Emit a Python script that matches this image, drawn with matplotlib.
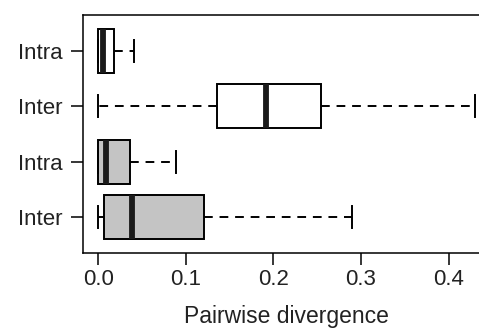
import matplotlib
matplotlib.use("Agg")
import matplotlib.pyplot as plt

plt.rcParams['font.family'] = ['Liberation Sans', 'DejaVu Sans']

# summary values, bottom row first
labels = ['Inter', 'Intra', 'Inter', 'Intra']
whislo = [0.0, 0.0, 0.0, 0.0]
q1 = [0.007, 0.0, 0.136, 0.0]
med = [0.039, 0.009, 0.192, 0.006]
q3 = [0.121, 0.036, 0.254, 0.018]
whishi = [0.29, 0.089, 0.43, 0.041]
fills = ['#c4c4c4', '#c4c4c4', 'white', 'white']

xticks = [0.0, 0.1, 0.2, 0.3, 0.4]

stats = []
for i in range(len(labels)):
    stats.append({'whislo': whislo[i], 'q1': q1[i], 'med': med[i],
                  'q3': q3[i], 'whishi': whishi[i], 'fliers': [],
                  'label': labels[i]})

fig = plt.figure(figsize=(4.79, 3.28), dpi=100)
ax = fig.add_axes([83/479, 75/328, 407/479, 238/328])

bp = ax.bxp(stats, positions=[1, 2, 3, 4], vert=False, widths=0.8,
            patch_artist=True, showfliers=False,
            boxprops=dict(edgecolor='black', linewidth=1.4),
            medianprops=dict(color='#1a1a1a', linewidth=4.2, solid_capstyle='butt'),
            whiskerprops=dict(color='black', linewidth=1.4, linestyle=(0, (4.5, 3.5))),
            capprops=dict(color='black', linewidth=1.4))
for patch, c in zip(bp['boxes'], fills):
    patch.set_facecolor(c)

ax.set_xlim(-0.0172, 0.4472)
ax.set_ylim(0.34, 4.66)
ax.set_xticks(xticks)
ax.set_xticklabels(['%.1f' % t for t in xticks])
ax.set_yticks([1, 2, 3, 4])
ax.set_yticklabels(labels)

for s in ['left', 'top', 'bottom']:
    ax.spines[s].set_linewidth(1.1)
ax.spines['right'].set_visible(False)

ax.tick_params(axis='both', direction='out', length=8.5, width=1.1,
               labelsize=16, color='black', labelcolor='#222222')
ax.tick_params(axis='x', pad=3)
ax.tick_params(axis='y', pad=6)
ax.set_xlabel('Pairwise divergence', fontsize=16.5, color='#222222', labelpad=11)

fig.savefig('out.png', dpi=100)
